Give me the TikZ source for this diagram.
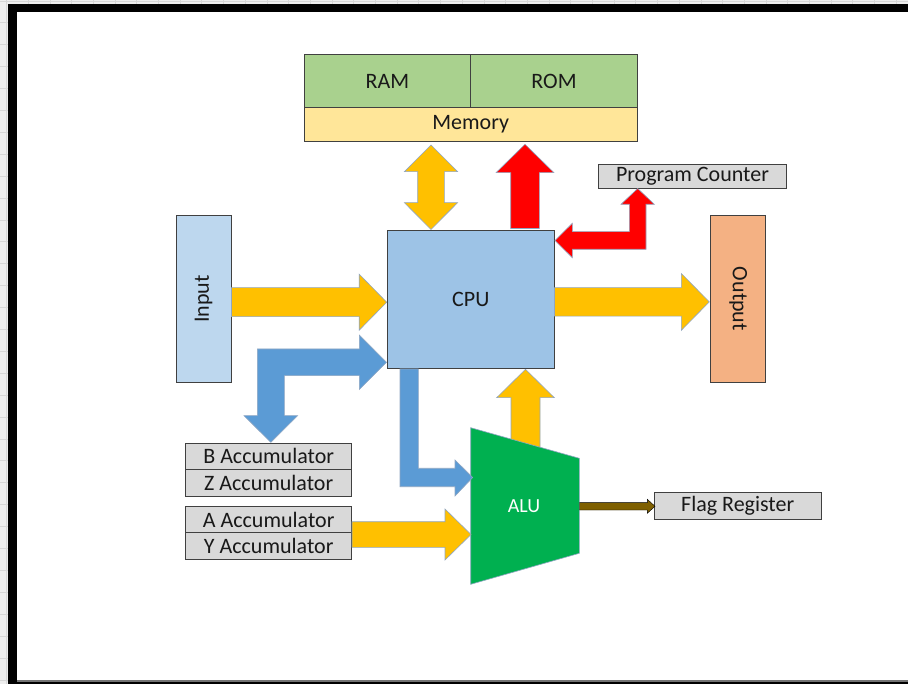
\documentclass[tikz,border=0pt]{standalone}
\usepackage{fontspec}
\setmainfont{Carlito}
\definecolor{ramgreen}{HTML}{A9D18E}
\definecolor{memyellow}{HTML}{FFE699}
\definecolor{cpublue}{HTML}{9DC3E6}
\definecolor{inblue}{HTML}{BDD7EE}
\definecolor{outorange}{HTML}{F4B183}
\definecolor{reggray}{HTML}{D9D9D9}
\definecolor{busyellow}{HTML}{FFC000}
\definecolor{busred}{HTML}{FF0000}
\definecolor{busblue}{HTML}{5B9BD5}
\definecolor{alugreen}{HTML}{00B050}
\definecolor{flagbrown}{HTML}{7F6000}
\definecolor{edgegray}{HTML}{404040}
\definecolor{arrowedge}{HTML}{8FA6C2}
\definecolor{gridgray}{HTML}{D6D6D6}
\definecolor{pagegray}{HTML}{EDEDED}
% horizontal block arrow: style, x start, x tip, y centre, shaft half, head half, head length
\newcommand\hblock[7]{\filldraw[#1] (#2,#4-#5) -- (#3-#7,#4-#5) -- (#3-#7,#4-#6) -- (#3,#4)
  -- (#3-#7,#4+#6) -- (#3-#7,#4+#5) -- (#2,#4+#5) -- cycle;}
% upward block arrow: style, x centre, y base, y tip, shaft half, head half, head length
\newcommand\vblock[7]{\filldraw[#1] (#2-#5,#3) -- (#2-#5,#4+#7) -- (#2-#6,#4+#7) -- (#2,#4)
  -- (#2+#6,#4+#7) -- (#2+#5,#4+#7) -- (#2+#5,#3) -- cycle;}
\begin{document}
\begin{tikzpicture}[x=1pt,y=-1pt,
  lbl/.style={font=\fontsize{22}{26}\selectfont, text=black!90},
  box/.style={draw=edgegray, line width=0.9pt, inner sep=0pt, lbl},
  blk/.style={draw=arrowedge, line width=0.6pt},
]
\useasboundingbox (0,0) rectangle (908,684);
% page background with faint grid
\fill[pagegray] (0,0) rectangle (908,684);
\foreach \k in {0,...,42} \draw[gridgray, line width=0.8pt] (6.5+21.7*\k,0) -- (6.5+21.7*\k,684);
\foreach \k in {0,...,31} \draw[gridgray, line width=0.8pt] (0,1+21.9*\k) -- (908,1+21.9*\k);
% black frame
\fill[black] (8.3,4.3) rectangle (908,684);
\fill[white] (17,12.3) rectangle (908,680.3);
\draw[black!55, line width=1.2pt] (17,681) -- (908,681);

% boxes
\node[box, fill=ramgreen, minimum width=166.7, minimum height=53.4] (ram) at (387.35,81) {RAM};
\node[box, fill=ramgreen, minimum width=166.6, minimum height=53.4] (rom) at (554,81) {ROM};
\node[box, fill=memyellow, minimum width=333.3, minimum height=34] (mem) at (470.7,124.7) {Memory};
\node[box, fill=cpublue, minimum width=167, minimum height=138.3] (cpu) at (470.8,299.2) {CPU};
\node[box, fill=inblue, minimum width=55, minimum height=167.7] (inp) at (203.5,298.9) {};
\node[lbl, rotate=90] (inptxt) at (inp.center) {Input};
\node[box, fill=outorange, minimum width=55, minimum height=167.7] (outp) at (738.2,298.9) {};
\node[lbl, rotate=-90] (outtxt) at (outp.center) {Output};
\node[box, fill=reggray, minimum width=188.4, minimum height=24.3] (pc) at (692.5,176.2) {Program Counter};
\node[box, fill=reggray, minimum width=166, minimum height=26] (bacc) at (268.7,456.3) {B Accumulator};
\node[box, fill=reggray, minimum width=166, minimum height=26.7] (zacc) at (268.7,482.65) {Z Accumulator};
\node[box, fill=reggray, minimum width=166, minimum height=26] (aacc) at (268.7,519.7) {A Accumulator};
\node[box, fill=reggray, minimum width=166, minimum height=26.6] (yacc) at (268.7,546) {Y Accumulator};
\node[box, fill=reggray, minimum width=166.7, minimum height=26.6] (flag) at (737.7,506) {Flag Register};

% ALU result back to the CPU (starts under the ALU body)
\vblock{blk, fill=busyellow}{525.5}{450}{369.3}{14.5}{28.8}{28.4}
% ALU body
\filldraw[fill=alugreen, draw=arrowedge, line width=0.6pt]
  (470.7,427.7) -- (579.3,458.3) -- (579.3,553.3) -- (470.7,584.3) -- cycle;
\node[lbl, text=white, font=\fontsize{20}{24}\selectfont] (alu) at (524,506) {ALU};

% data paths
\hblock{blk, fill=busyellow}{231.5}{386.7}{302.2}{14.5}{28}{27.5}
\hblock{blk, fill=busyellow}{554.5}{709.3}{301.9}{14.2}{28.4}{28}
\hblock{blk, fill=busyellow}{352}{471}{534.5}{12.8}{25.5}{26}
% memory <-> CPU data bus
\filldraw[blk, fill=busyellow] (431,145) -- (457.6,171.7) -- (444.3,171.7) -- (444.3,202.7) -- (457.6,202.7)
  -- (431,229.5) -- (404.4,202.7) -- (417.7,202.7) -- (417.7,171.7) -- (404.4,171.7) -- cycle;
% CPU -> memory address
\vblock{blk, fill=busred}{525}{228.5}{144.3}{14.3}{29}{28.4}
% program counter <-> CPU
\filldraw[blk, fill=busred] (555,240.5) -- (572.3,223.3) -- (572.3,231.7) -- (629.3,231.7) -- (629.3,204.3)
  -- (621,204.3) -- (637.7,188.5) -- (654.3,204.3) -- (646,204.3) -- (646,249.3) -- (572.3,249.3)
  -- (572.3,257.7) -- cycle;
% CPU <-> B accumulator
\filldraw[blk, fill=busblue] (386.5,362.3) -- (359.3,335) -- (359.3,349) -- (257.3,349) -- (257.3,415.7)
  -- (244,415.7) -- (270.8,442.3) -- (297.6,415.7) -- (284.3,415.7) -- (284.3,375.7) -- (359.3,375.7)
  -- (359.3,389.5) -- cycle;
% CPU -> ALU operand
\filldraw[blk, fill=busblue] (400,369) -- (418.3,369) -- (418.3,468.3) -- (455,468.3) -- (455,460)
  -- (472.7,477.5) -- (455,496) -- (455,486.7) -- (400,486.7) -- cycle;
% ALU -> flag register
\hblock{fill=flagbrown}{579.5}{655}{506.3}{3.7}{7}{7.7}
\end{tikzpicture}
\end{document}
